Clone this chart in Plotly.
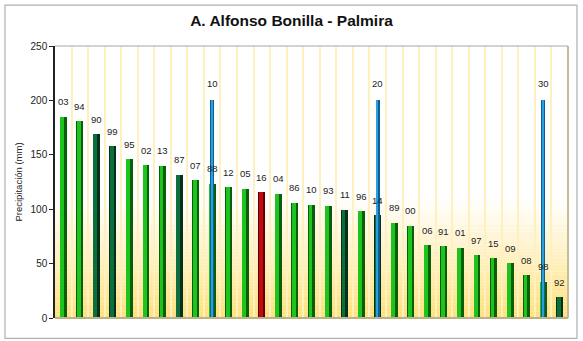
import plotly.graph_objects as go

# ---- data ----
years = ["03", "94", "90", "99", "95", "02", "13", "87", "07", "88", "12", "05", "16",
         "04", "86", "10", "93", "11", "96", "14", "89", "00", "06", "91", "01", "97",
         "15", "09", "08", "98", "92"]
values = [185, 181, 169, 158, 146, 140.5, 140, 131.5, 126.5, 123.5, 120, 119, 115.5,
          114, 106, 104, 103, 99.5, 98, 94.5, 87.5, 85, 67, 66, 64.5, 57.5,
          55, 50.5, 39.5, 33.5, 19]
dark_years = ["90", "99", "87", "11", "14", "92"]
highlight_year = "16"
rank_marks = [10, 20, 30]          # rank positions marked with blue bars
rank_value = 200

# ---- styling ----
C_GREEN_BASE, C_GREEN_HI = "#0a5e0a", "#1ec41e"
C_DARK_BASE, C_DARK_HI = "#03301a", "#0c6e3c"
C_RED_BASE, C_RED_HI = "#5a0000", "#c40a0a"
C_BLUE_BASE, C_BLUE_HI = "#0b5f94", "#2aa0d8"

x = list(range(len(years)))
base_cols, hi_cols = [], []
for yv in years:
    if yv == highlight_year:
        base_cols.append(C_RED_BASE); hi_cols.append(C_RED_HI)
    elif yv in dark_years:
        base_cols.append(C_DARK_BASE); hi_cols.append(C_DARK_HI)
    else:
        base_cols.append(C_GREEN_BASE); hi_cols.append(C_GREEN_HI)

fig = go.Figure()
BW = 0.42
fig.add_trace(go.Bar(x=x, y=values, width=BW, offset=-BW / 2,
                     marker=dict(color=base_cols, line=dict(width=0)),
                     hoverinfo="skip", showlegend=False))
fig.add_trace(go.Bar(x=x, y=values, width=BW * 0.55, offset=-BW / 2 + 0.03,
                     marker=dict(color=hi_cols, line=dict(width=0)),
                     text=years, hoverinfo="skip", showlegend=False,
                     textposition="none"))

bx = [r - 1 for r in rank_marks]
BBW = 0.24
fig.add_trace(go.Bar(x=bx, y=[rank_value] * len(bx), width=BBW, offset=-BBW / 2,
                     marker=dict(color=C_BLUE_BASE, line=dict(width=0)),
                     hoverinfo="skip", showlegend=False))
fig.add_trace(go.Bar(x=bx, y=[rank_value] * len(bx), width=BBW * 0.55, offset=-BBW / 2 + 0.02,
                     marker=dict(color=C_BLUE_HI, line=dict(width=0)),
                     hoverinfo="skip", showlegend=False))

annotations = []
for xi, v, lab in zip(x, values, years):
    annotations.append(dict(x=xi, y=v, text=lab, showarrow=False, yanchor="middle",
                            yshift=15, font=dict(size=9.5, color="#222")))
for r, xi in zip(rank_marks, bx):
    annotations.append(dict(x=xi, y=rank_value, text=str(r), showarrow=False,
                            yanchor="middle", yshift=17, font=dict(size=9.5, color="#222")))

# background gradient (white at top fading to yellow at the bottom)
shapes = []
n = 36
top_val = 110
bottom = (255, 224, 118)
for i in range(n):
    y0 = top_val * i / n
    y1 = top_val * (i + 1) / n
    t = (i + 0.5) / n
    t = t ** 0.9
    r = int(bottom[0] + (255 - bottom[0]) * t)
    g = int(bottom[1] + (255 - bottom[1]) * t)
    b = int(bottom[2] + (255 - bottom[2]) * t)
    shapes.append(dict(type="rect", xref="paper", yref="y", x0=0, x1=1, y0=y0, y1=y1,
                       fillcolor=f"rgb({r},{g},{b})", line=dict(width=0), layer="below"))
# plot borders
shapes.append(dict(type="line", xref="paper", yref="paper", x0=0, x1=1, y0=1, y1=1,
                   line=dict(color="#a8a8a8", width=1.2), layer="above"))
shapes.append(dict(type="line", xref="paper", yref="paper", x0=1, x1=1, y0=0, y1=1,
                   line=dict(color="#c8bc98", width=2), layer="above"))
shapes.append(dict(type="line", xref="paper", yref="paper", x0=0, x1=1, y0=0, y1=0,
                   line=dict(color="#bdb08c", width=2), layer="above"))
# outer frame
shapes.append(dict(type="rect", xref="paper", yref="paper", x0=-0.0975, x1=1.0175,
                   y0=-0.075, y1=1.15, line=dict(color="#b0b0b0", width=1.2),
                   fillcolor="rgba(0,0,0,0)", layer="below"))

fig.update_layout(
    width=583, height=341,
    margin=dict(l=55, r=15, t=46, b=23),
    paper_bgcolor="white", plot_bgcolor="white",
    barmode="overlay", bargap=0,
    font=dict(family="Arial, Liberation Sans, sans-serif", color="#222"),
    title=dict(text="<b>A. Alfonso Bonilla - Palmira</b>", x=0.5, xanchor="center",
               y=0.94, yanchor="middle", font=dict(size=15.5, color="#111")),
    xaxis=dict(range=[-0.5, len(years) - 0.5], showticklabels=False, ticks="",
               showgrid=True, gridcolor="#fff1bf", gridwidth=2.2,
               tick0=0.5, dtick=1, zeroline=False, showline=False),
    yaxis=dict(range=[0, 250], dtick=50, showgrid=False, zeroline=False,
               showline=True, linecolor="#222", linewidth=1.5,
               ticks="outside", ticklen=4, tickcolor="#222",
               tickfont=dict(size=10, color="#222"),
               title=dict(text="Precipitación (mm)", font=dict(size=9.5, color="#222"),
                          standoff=6)),
    annotations=annotations,
    shapes=shapes,
)

fig.write_html("out.html", config={"displayModeBar": False},
               post_script="document.body.style.margin='0';document.body.style.padding='0';")
